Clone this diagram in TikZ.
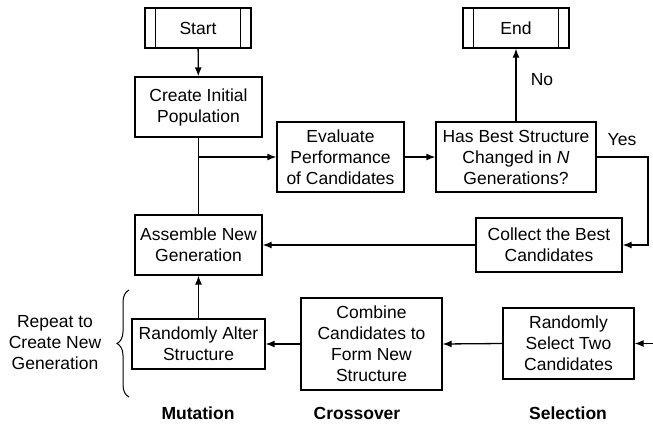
\documentclass[tikz,border=0pt]{standalone}
\usepackage{fontspec}
\setmainfont{Liberation Sans}
\usetikzlibrary{arrows.meta,decorations.pathreplacing,calc}
\begin{document}
\begin{tikzpicture}[x=1pt,y=-1pt,
  font=\fontsize{17.5}{21}\selectfont,
  box/.style={draw, line width=1.3pt, align=center, inner sep=0pt},
  term/.style={box, minimum width=106pt, minimum height=40pt},
  conn/.style={line width=1.3pt, -{Latex[length=9pt,width=7pt]}},
  plain/.style={line width=1.3pt},
  lbl/.style={font=\fontsize{17.5}{21}\selectfont\bfseries}
]
\useasboundingbox (0,0) rectangle (653,423);

\node[term] (start) at (198,28) {Start};
\node[term] (end) at (516,28) {End};
\foreach \n in {start,end}{
  \draw[plain] ([xshift=11pt]\n.north west) -- ([xshift=11pt]\n.south west);
  \draw[plain] ([xshift=-11pt]\n.north east) -- ([xshift=-11pt]\n.south east);
}

\node[box, minimum width=127pt, minimum height=60pt] (init) at (198.5,107) {Create Initial\\Population};
\node[box, minimum width=127pt, minimum height=70pt] (eval) at (340.5,157) {Evaluate\\Performance\\of Candidates};
\node[box, minimum width=160pt, minimum height=70pt] (has) at (516,157) {Has Best Structure\\Changed in \textit{N}\\Generations?};
\node[box, minimum width=146pt, minimum height=54pt] (collect) at (549,245) {Collect the Best\\Candidates};
\node[box, minimum width=127pt, minimum height=60pt] (assemble) at (198.5,245) {Assemble New\\Generation};
\node[box, minimum width=133pt, minimum height=50pt] (alter) at (198.5,344) {Randomly Alter\\Structure};
\node[box, minimum width=141pt, minimum height=92pt] (combine) at (371.5,344) {Combine\\Candidates to\\Form New\\Structure};
\node[box, minimum width=131pt, minimum height=71pt] (select) at (568.5,343.5) {Randomly\\Select Two\\Candidates};

\node[lbl] (mut) at (198,413) {Mutation};
\node[lbl] (cross) at (357,413) {Crossover};
\node[lbl] (sel) at (568,413) {Selection};

\node[align=center] (repeat) at (55,343) {Repeat to\\Create New\\Generation};
\node (no) at (542,80) {No};
\node (yes) at (622,140) {Yes};

\coordinate (j) at (init.south |- eval.west);
\coordinate (r1) at (648,157);
\coordinate (r2) at (648,245);
\coordinate (rin) at (653,343.5);
\coordinate (b1) at (129,397);
\coordinate (b2) at (129,290);

\draw[conn] (start) -- (init);
\draw[plain] (init.south) -- (assemble.north);
\draw[conn] (j) -- (eval.west);
\draw[conn] (eval.east) -- (has.west);
\draw[conn] (has.north) -- (end.south);
\draw[conn] (has.east) -- (r1) -- (r2) -- (collect.east);
\draw[conn] (collect.west) -- (assemble.east);
\draw[conn] (alter.north) -- (assemble.south);
\draw[conn] (combine.west) -- (alter.east);
\draw[conn] (select.west) -- (combine.east);
\draw[conn] (rin) -- (select.east);

\draw[line width=1pt, decorate, decoration={brace, amplitude=12pt}] (b1) -- (b2);
\end{tikzpicture}
\end{document}
